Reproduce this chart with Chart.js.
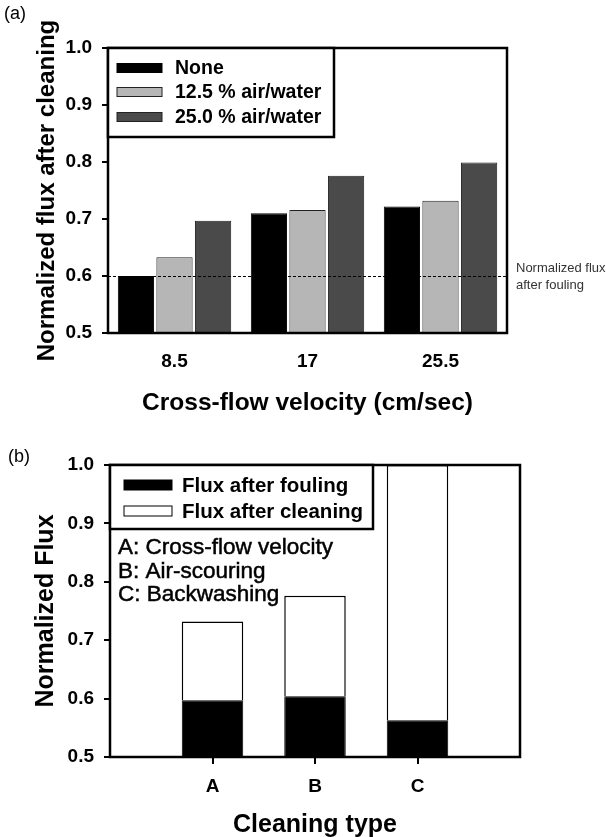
<!DOCTYPE html>
<html>
<head>
<meta charset="utf-8">
<script src="https://cdn.jsdelivr.net/npm/chart.js@4.4.1/dist/chart.umd.min.js"></script>
<style>
  body { margin: 0; background: #fff; }
  #wrap { position: relative; width: 606px; height: 837px; }
  canvas { position: absolute; left: 0; }
  #chartA { top: 0; }
  #chartB { top: 430px; }
</style>
</head>
<body>
<div id="wrap">
  <canvas id="chartA" width="606" height="430"></canvas>
  <canvas id="chartB" width="606" height="407"></canvas>
</div>
<script>
const FONT = "'Liberation Sans', Arial, Helvetica, sans-serif";

// (a) flux after cleaning vs cross-flow velocity
const velocities = ['8.5', '17', '25.5'];
const fluxNone = [0.600, 0.710, 0.722];
const flux125 = [0.633, 0.716, 0.732];
const flux250 = [0.697, 0.776, 0.799];
const foulingLevel = 0.6;

// (b) flux by cleaning type ('' = empty slots at the edges)
const cleaningTypes = ['', 'A', 'B', 'C', ''];
const fluxFouled = [null, 0.597, 0.604, 0.563, null];
const fluxCleaned = [null, 0.732, 0.776, 1.0, null];
const typeNotes = ['A: Cross-flow velocity', 'B: Air-scouring', 'C: Backwashing'];

const tickFont = { family: FONT, size: 19, weight: 'bold' };
const titleFont = size => ({ family: FONT, size, weight: 'bold' });

const framePlugin = {
    id: 'frame',
    afterDatasetsDraw(chart) {
        const { ctx, chartArea: a } = chart;
        ctx.save();
        ctx.strokeStyle = '#000';
        ctx.lineWidth = 2.5;
        ctx.strokeRect(a.left, a.top, a.right - a.left, a.bottom - a.top);
        ctx.restore();
    },
};

// legend box in the top-left corner of the plot
function drawLegend(chart, box) {
    const { ctx } = chart;
    ctx.save();
    ctx.fillStyle = '#fff';
    ctx.fillRect(box.x, box.y, box.w, box.h);
    ctx.strokeStyle = '#000';
    ctx.lineWidth = 2.5;
    ctx.strokeRect(box.x, box.y, box.w, box.h);
    ctx.font = `bold ${box.size}px ${FONT}`;
    ctx.textBaseline = 'middle';
    chart.data.datasets.forEach((ds, i) => {
        const cy = box.rows[i];
        ctx.fillStyle = ds.backgroundColor;
        ctx.fillRect(box.sx, cy - box.sh / 2, box.sw, box.sh);
        ctx.strokeStyle = ds.borderColor;
        ctx.lineWidth = 1;
        ctx.strokeRect(box.sx, cy - box.sh / 2, box.sw, box.sh);
        ctx.fillStyle = '#000';
        ctx.fillText(ds.label, box.tx, cy + 1);
    });
    ctx.restore();
}

function panelLabel(ctx, text, x, y) {
    ctx.save();
    ctx.font = `18px ${FONT}`;
    ctx.fillStyle = '#000';
    ctx.textBaseline = 'middle';
    ctx.fillText(text, x, y);
    ctx.restore();
}

const yScale = (title, width, size, pad) => ({
    min: 0.5,
    max: 1.0,
    ticks: { stepSize: 0.1, callback: v => v.toFixed(1), font: tickFont, color: '#000', padding: 10 },
    grid: { drawOnChartArea: false, drawTicks: true, tickLength: 6, color: '#000', lineWidth: 2 },
    border: { display: false },
    title: { display: true, text: title, font: titleFont(size), color: '#000', padding: { top: pad, bottom: 0 } },
    afterFit: s => { s.width = width; },
});

// ---------- (a) ----------
new Chart(document.getElementById('chartA'), {
    type: 'bar',
    data: {
        labels: velocities,
        datasets: [
            { label: 'None', data: fluxNone, backgroundColor: '#000000', borderColor: '#000000' },
            { label: '12.5 % air/water', data: flux125, backgroundColor: '#b6b6b6', borderColor: '#222222' },
            { label: '25.0 % air/water', data: flux250, backgroundColor: '#4a4a4a', borderColor: '#222222' },
        ],
    },
    options: {
        responsive: false,
        animation: false,
        layout: { padding: { left: 0, right: 99, top: 48, bottom: 0 } },
        datasets: { bar: { categoryPercentage: 0.87, barPercentage: 0.94, borderWidth: 1 } },
        plugins: { legend: { display: false }, tooltip: { enabled: false } },
        scales: {
            x: {
                grid: { display: false, drawTicks: false },
                border: { display: false },
                ticks: { font: tickFont, color: '#000', padding: 17.6 },
                title: {
                    display: true, text: 'Cross-flow velocity (cm/sec)', font: titleFont(24.5),
                    color: '#000', padding: { top: 0, bottom: 12.3 },
                },
                afterFit: s => { s.height = 97; },
            },
            y: yScale('Normalized flux after cleaning', 108, 24, 32.6),
        },
    },
    plugins: [framePlugin, {
        id: 'extrasA',
        afterDatasetsDraw(chart) {
            const { ctx, chartArea: a, scales: { y } } = chart;
            const py = Math.round(y.getPixelForValue(foulingLevel)) + 0.5;
            ctx.save();
            ctx.setLineDash([3, 2]);
            ctx.lineWidth = 1;
            ctx.strokeStyle = '#000';
            ctx.beginPath();
            ctx.moveTo(a.left, py);
            ctx.lineTo(a.right, py);
            ctx.stroke();
            ctx.setLineDash([]);
            ctx.font = `13px ${FONT}`;
            ctx.fillStyle = '#333';
            ctx.textBaseline = 'middle';
            ctx.fillText('Normalized flux', a.right + 9, py - 8);
            ctx.fillText('after fouling', a.right + 9, py + 9);
            ctx.restore();

            drawLegend(chart, { x: a.left, y: a.top, w: 226, h: 89, rows: [68, 92, 117],
                sx: 117, sw: 45, sh: 9, tx: 175, size: 19.5 });
            panelLabel(ctx, '(a)', 4, 14);
        },
    }],
});

// ---------- (b) ----------
new Chart(document.getElementById('chartB'), {
    type: 'bar',
    data: {
        labels: cleaningTypes,
        datasets: [
            { label: 'Flux after fouling', data: fluxFouled, backgroundColor: '#000000', borderColor: '#000000', borderWidth: 1 },
            {
                label: 'Flux after cleaning',
                data: cleaningTypes.map((_, i) => fluxCleaned[i] == null ? null : [fluxFouled[i], fluxCleaned[i]]),
                backgroundColor: '#ffffff', borderColor: '#000000', borderWidth: 1.5,
            },
        ],
    },
    options: {
        responsive: false,
        animation: false,
        layout: { padding: { left: 0, right: 86, top: 35, bottom: 0 } },
        datasets: { bar: { grouped: false, categoryPercentage: 0.6, barPercentage: 1.0 } },
        plugins: { legend: { display: false }, tooltip: { enabled: false } },
        scales: {
            x: {
                offset: false,
                grid: {
                    offset: false, drawOnChartArea: false, drawTicks: true, tickLength: 7, lineWidth: 2,
                    color: c => (cleaningTypes[c.index] ? '#000' : 'rgba(0,0,0,0)'),
                },
                border: { display: false },
                ticks: { font: tickFont, color: '#000', padding: 11.6, autoSkip: false, maxRotation: 0 },
                title: {
                    display: true, text: 'Cleaning type', font: titleFont(25),
                    color: '#000', padding: { top: 0, bottom: -3 },
                },
                afterFit: s => { s.height = 80; },
            },
            y: yScale('Normalized Flux', 110, 25, 31),
        },
    },
    plugins: [framePlugin, {
        id: 'extrasB',
        afterDatasetsDraw(chart) {
            const { ctx, chartArea: a } = chart;
            drawLegend(chart, { x: a.left, y: a.top, w: 263, h: 64, rows: [55, 81],
                sx: 124, sw: 48, sh: 10, tx: 182, size: 20.5 });
            ctx.save();
            ctx.font = `22.5px ${FONT}`;
            ctx.fillStyle = '#000';
            ctx.strokeStyle = '#000';
            ctx.lineWidth = 0.5;
            ctx.textBaseline = 'middle';
            typeNotes.forEach((t, i) => {
                ctx.fillText(t, 118, 118 + i * 23.5);
                ctx.strokeText(t, 118, 118 + i * 23.5);
            });
            ctx.restore();
            panelLabel(ctx, '(b)', 8, 27);
        },
    }],
});
</script>
</body>
</html>
